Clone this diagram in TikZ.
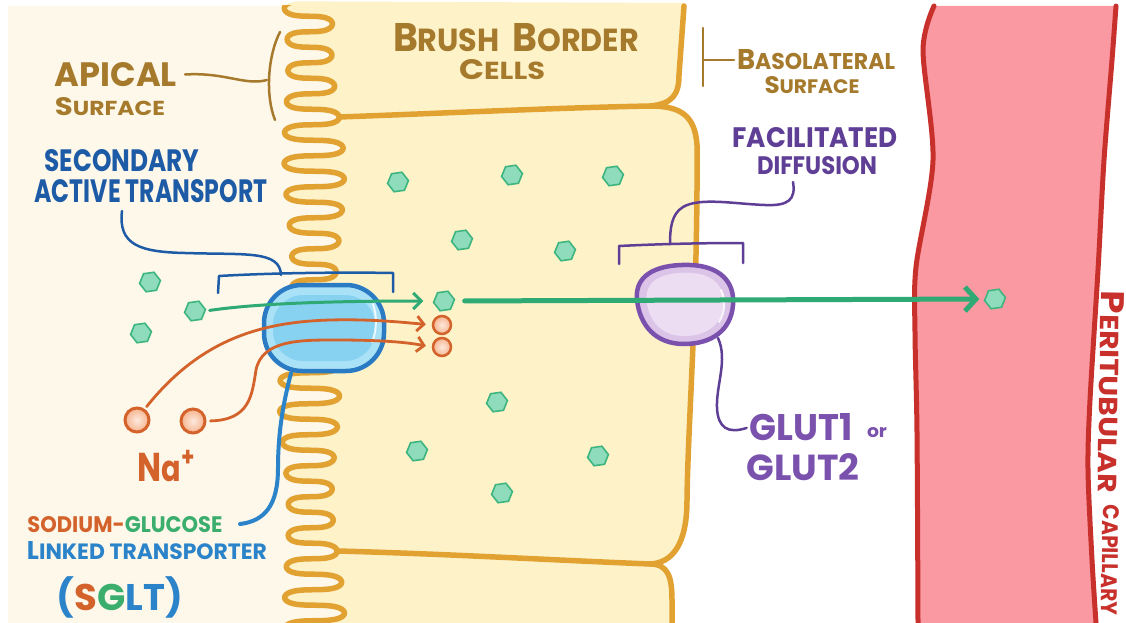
\documentclass[tikz,border=0pt]{standalone}
\usepackage{fontspec}
\setmainfont{Poppins}
\usepackage{graphicx}
\usetikzlibrary{arrows.meta,shapes.geometric}

\definecolor{lumen}{HTML}{FDF8EA}
\definecolor{cellfill}{HTML}{FEF2C9}
\definecolor{membrane}{HTML}{E2A232}
\definecolor{tanc}{HTML}{A67A2C}
\definecolor{secblue}{HTML}{1D5BA6}
\definecolor{lblue}{HTML}{2B83CA}
\definecolor{sgltline}{HTML}{2A7BC4}
\definecolor{sgltouter}{HTML}{A9E1F7}
\definecolor{sgltcore}{HTML}{88D2F1}
\definecolor{orangec}{HTML}{D3622B}
\definecolor{peach}{HTML}{F6B48E}
\definecolor{glcline}{HTML}{3DB57F}
\definecolor{glcfill}{HTML}{8FDCBD}
\definecolor{greenarrow}{HTML}{2FAA74}
\definecolor{greentext}{HTML}{3BAE6E}
\definecolor{purpletext}{HTML}{5F3E96}
\definecolor{glutline}{HTML}{7A52AE}
\definecolor{glutouter}{HTML}{DCC4E8}
\definecolor{glutcore}{HTML}{ECDDF2}
\definecolor{capfill}{HTML}{FA99A1}
\definecolor{capline}{HTML}{C8302C}

\newcommand\fs[1]{\fontsize{#1}{#1}\selectfont}
\newcommand\fitbox[3]{\resizebox{#1pt}{#2pt}{#3}}
% brush border: folded membrane traced by the angle #1 (degrees);
% the slow terms vary the folds, the sin(2#1) term rounds their tips
\newcommand\wx[1]{312+(26+4*sin(0.137*(#1)))*sin(#1)+3*sin(0.071*(#1))}
\newcommand\wy[1]{117+((#1)-90)*0.086111-2.3*sin(2*(#1))}

\begin{document}
\begin{tikzpicture}[x=1pt,y=-1pt,
  lab/.style={inner sep=0pt, outer sep=0pt, font=\bfseries},
  mem/.style={draw=membrane, line width=5.5pt, line cap=round, line join=round},
  capedge/.style={draw=capline, line width=5pt, line cap=round},
  glc/.style={regular polygon, regular polygon sides=6, draw=glcline, fill=glcfill,
    line width=1.6pt, minimum size=21pt, inner sep=0pt, shape border rotate=8},
  naball/.style={circle, draw=orangec, line width=3pt, inner color=white!70!peach,
    outer color=peach, minimum size=24pt, inner sep=0pt},
  nasmall/.style={naball, line width=2.5pt, minimum size=18pt},
  orarrow/.style={draw=orangec, line width=2.8pt, line cap=round,
    -{Straight Barb[length=7pt,width=15pt]}},
  grarrow/.style={draw=greenarrow, line width=3pt, line cap=round,
    -{Straight Barb[length=8pt,width=16pt]}},
  bigarrow/.style={draw=greenarrow, line width=5pt, line cap=round,
    -{Straight Barb[length=11pt,width=24pt]}},
  tanline/.style={draw=tanc, line width=2.5pt, line cap=round},
  secline/.style={draw=secblue, line width=2.5pt, line cap=round, line join=round},
  purline/.style={draw=purpletext, line width=2.5pt, line cap=round, line join=round},
  sgltptr/.style={draw=lblue, line width=4pt, line cap=round}
]
\useasboundingbox (0,0) rectangle (1126,623);
\fill[white] (0,0) rectangle (1126,623);

% lumen side
\fill[lumen] (8,6) rectangle (360,623);

% cell bodies, bounded on the left by the brush border
\coordinate (w1) at ({\wx{90}},{\wy{90}});
\coordinate (w2) at ({\wx{5130}},{\wy{5130}});
\coordinate (j1) at (650,106);
\coordinate (j2) at (650,564);

\fill[cellfill] plot[domain=-1230:90,samples=265,variable=\t] ({\wx{\t}},{\wy{\t}})
  .. controls (450,113) and (550,108) .. (j1)
  .. controls (672,104) and (679,95) .. (679,75) -- (684,3) -- cycle;
\fill[cellfill] plot[domain=90:5130,samples=1009,variable=\t] ({\wx{\t}},{\wy{\t}})
  .. controls (450,554) and (550,560) .. (j2)
  .. controls (672,563) and (687,545) .. (687,500)
  .. controls (688,420) and (698,300) .. (697,145)
  .. controls (695,115) and (680,106) .. (j1)
  .. controls (550,108) and (450,113) .. (w1) -- cycle;
\fill[cellfill] plot[domain=5130:6030,samples=181,variable=\t] ({\wx{\t}},{\wy{\t}})
  -- (672,626) -- (672,600) .. controls (672,577) and (668,564) .. (j2)
  .. controls (550,560) and (450,554) .. (w2) -- cycle;

% capillary
\fill[capfill] plot[smooth] coordinates {(934,6) (923,50) (933,160) (916,267) (915,333) (917,433) (918,623)}
  -- plot[smooth] coordinates {(1096,623) (1092,560) (1088,470) (1090,400) (1098,270) (1104,160) (1112,60) (1116,6)} -- cycle;
\draw[capedge] plot[smooth] coordinates {(934,6) (923,50) (933,160) (916,267) (915,333) (917,433) (918,623)};
\draw[capedge] plot[smooth] coordinates {(1096,623) (1092,560) (1088,470) (1090,400) (1098,270) (1104,160) (1112,60) (1116,6)};

% membranes
\begin{scope}
\clip (0,6) rectangle (1126,623);
\draw[mem] plot[domain=-1230:6030,samples=1453,variable=\t] ({\wx{\t}},{\wy{\t}});
\end{scope}
\draw[mem] (w1) .. controls (450,113) and (550,108) .. (j1);
\draw[mem] (w2) .. controls (450,554) and (550,560) .. (j2);
\draw[mem] (684,6) -- (679,75) .. controls (679,95) and (672,104) .. (j1)
  .. controls (680,106) and (695,115) .. (697,145)
  .. controls (698,300) and (688,420) .. (687,500)
  .. controls (687,545) and (672,563) .. (j2)
  .. controls (668,564) and (672,577) .. (672,600) -- (672,623);

% glucose molecules
\node[glc] (h1) at (150,282) {};
\node[glc] (h2) at (195,311) {};
\node[glc] (h3) at (141,333) {};
\node[glc] (h4) at (398,182) {};
\node[glc] (h5) at (512,175) {};
\node[glc] (h6) at (613,176) {};
\node[glc] (h7) at (462,240) {};
\node[glc] (h8) at (565,251) {};
\node[glc] (h9) at (444,301) {};
\node[glc] (h10) at (497,402) {};
\node[glc] (h11) at (417,451) {};
\node[glc] (h12) at (598,456) {};
\node[glc] (h13) at (502,493) {};
\node[glc] (h14) at (995,299) {};

% labels
\node[lab,text=tanc] (apical) at (116,75) {\fitbox{122}{24}{APICAL}};
\node[lab,text=tanc] (apsurf) at (110,107) {\fitbox{110}{18}{\fs{25}S\fs{20}URFACE}};
\node[lab,text=tanc] (brush) at (516,38) {\fitbox{246}{28}{\fs{30}B\fs{24}RUSH\ \ \fs{30}B\fs{24}ORDER}};
\node[lab,text=tanc] (cells) at (502,70) {\fitbox{86}{20}{\fs{24}C\fs{21}ELLS}};
\node[lab,text=tanc] (baso) at (816,60) {\fitbox{158}{20}{\fs{25}B\fs{20}ASOLATERAL}};
\node[lab,text=tanc] (basurf) at (812,85) {\fitbox{95}{17}{\fs{22}S\fs{18}URFACE}};
\node[lab,text=secblue] (second) at (122,161) {\fitbox{155}{22}{SECONDARY}};
\node[lab,text=secblue] (active) at (151,191) {\fitbox{233}{23}{ACTIVE TRANSPORT}};
\node[lab,text=orangec] (natext) at (166,466) {\fitbox{57}{31}{\fs{30}N\fs{27}a\raisebox{11pt}{\fs{20}+}}};
\node[lab] (sodium) at (125,525) {\fitbox{195}{16}{\textcolor{orangec}{SODIUM-}\textcolor{greentext}{GLUCOSE}}};
\node[lab,text=lblue] (linked) at (147,551) {\fitbox{240}{18}{\fs{22}L\fs{19}INKED TRANSPORTER}};
\node[lab] (sgltname) at (120,597) {\resizebox{126pt}{!}{\textcolor{lblue}{(}\textcolor{orangec}{S}\textcolor{greentext}{G}\textcolor{lblue}{LT)}}};
\node[lab,text=purpletext] (facil) at (815,138) {\fitbox{165}{20}{FACILITATED}};
\node[lab,text=purpletext] (diff) at (817,166) {\fitbox{120}{18}{DIFFUSION}};
\node[lab,text=glutline] (glut1) at (801,427) {\fitbox{103}{27}{GLUT1}};
\node[lab,text=glutline] (glutor) at (877,433) {\fitbox{20}{10}{or}};
\node[lab,text=glutline] (glut2) at (803,467) {\fitbox{113}{27}{GLUT2}};
\node[lab,text=capline,rotate=-91] (peri) at (1111,392) {\fitbox{202}{23}{\fs{30}P\fs{24}ERITUBULAR}};
\node[lab,text=capline,rotate=-91] (capl) at (1110,560) {\fitbox{110}{16}{CAPILLARY}};

% apical and basolateral brackets
\coordinate (apjoin) at (267,80);
\draw[tanline] (280,32) .. controls (268,55) and (265,95) .. (275,120);
\draw[tanline, shorten <=8pt] (apical.east) .. controls (225,72) and (245,86) .. (apjoin);
\coordinate (bljoin) at (703,60);
\draw[tanline] (703,28) -- (703,86);
\draw[tanline, shorten >=3pt] (bljoin) -- (baso.west |- bljoin);

% secondary active transport bracket
\coordinate (sa) at (122,211);
\coordinate (sbtop) at (281,275);
\draw[secline] (sa) .. controls (118,245) and (140,252) .. (185,253)
  .. controls (245,255) and (280,250) .. (sbtop);
\draw[secline] (218,293) -- (219,276) .. controls (270,273) and (340,272) .. (393,273) -- (393,292);

% SGLT transporter
\node[draw=sgltline, line width=4.5pt, fill=sgltouter, rounded corners=38pt,
  minimum width=120pt, minimum height=86pt] (sglt) at (324,328) {};
\node[fill=sgltcore, rounded corners=30pt, minimum width=102pt, minimum height=66pt] (sgltin) at (sglt.center) {};
\draw[white, line width=2pt, line cap=round, opacity=.8] (373,304) .. controls (377,316) and (377,330) .. (372,342);

% facilitated diffusion bracket
\coordinate (fdstart) at (793,182);
\coordinate (fdb) at (670,244);
\draw[purline] (fdstart) .. controls (796,200) and (788,206) .. (765,205)
  .. controls (735,204) and (700,197) .. (683,207)
  .. controls (671,214) and (670,230) .. (fdb);
\draw[purline] (619,264) -- (619,246) .. controls (660,244) and (700,243) .. (743,243) -- (743,263);

% GLUT transporter
\coordinate (glutc) at (685,304);
\coordinate (glutbr) at (718,338);
\draw[draw=glutline, line width=4.5pt, fill=glutouter]
  (637,300) .. controls (634,272) and (662,264) .. (690,265)
  .. controls (720,266) and (735,282) .. (733,305)
  .. controls (731,330) and (712,344) .. (684,344)
  .. controls (656,344) and (640,326) .. (637,300) -- cycle;
\fill[glutcore, scale around={0.8:(glutc)}]
  (637,300) .. controls (634,272) and (662,264) .. (690,265)
  .. controls (720,266) and (735,282) .. (733,305)
  .. controls (731,330) and (712,344) .. (684,344)
  .. controls (656,344) and (640,326) .. (637,300) -- cycle;
\draw[white, line width=2pt, line cap=round, opacity=.85] (721,290) .. controls (726,300) and (725,312) .. (719,322);
\draw[purline, shorten >=3pt] (glutbr) .. controls (728,360) and (716,385) .. (717,408)
  .. controls (718,428) and (728,434) .. (glut1.west);

% SGLT label pointer
\coordinate (sgltend) at (240,524);
\draw[sgltptr] ([xshift=-33pt]sglt.south) .. controls (284,400) and (278,430) .. (278,468)
  .. controls (278,505) and (265,521) .. (sgltend);

% sodium ions
\node[naball] (na1) at (137,420) {};
\node[naball] (na2) at (193,421) {};
\node[nasmall] (nc1) at (442,325) {};
\node[nasmall] (nc2) at (442,347) {};

% transport arrows
\draw[grarrow, shorten <=4pt, shorten >=10pt] (h2.east) .. controls (260,303) and (340,301) .. (h9.west);
\draw[orarrow, shorten <=3pt, shorten >=6pt] (na1.55) .. controls (200,340) and (260,322) .. (330,320)
  .. controls (370,319) and (400,322) .. (nc1.west);
\draw[orarrow, shorten <=4pt, shorten >=6pt] (na2.east) .. controls (250,420) and (252,395) .. (256,370)
  .. controls (262,340) and (300,340) .. (335,340)
  .. controls (380,340) and (405,342) .. (nc2.west);
\draw[bigarrow, shorten <=10pt, shorten >=5pt] (h9.east) -- (h14.west);
\end{tikzpicture}
\end{document}
